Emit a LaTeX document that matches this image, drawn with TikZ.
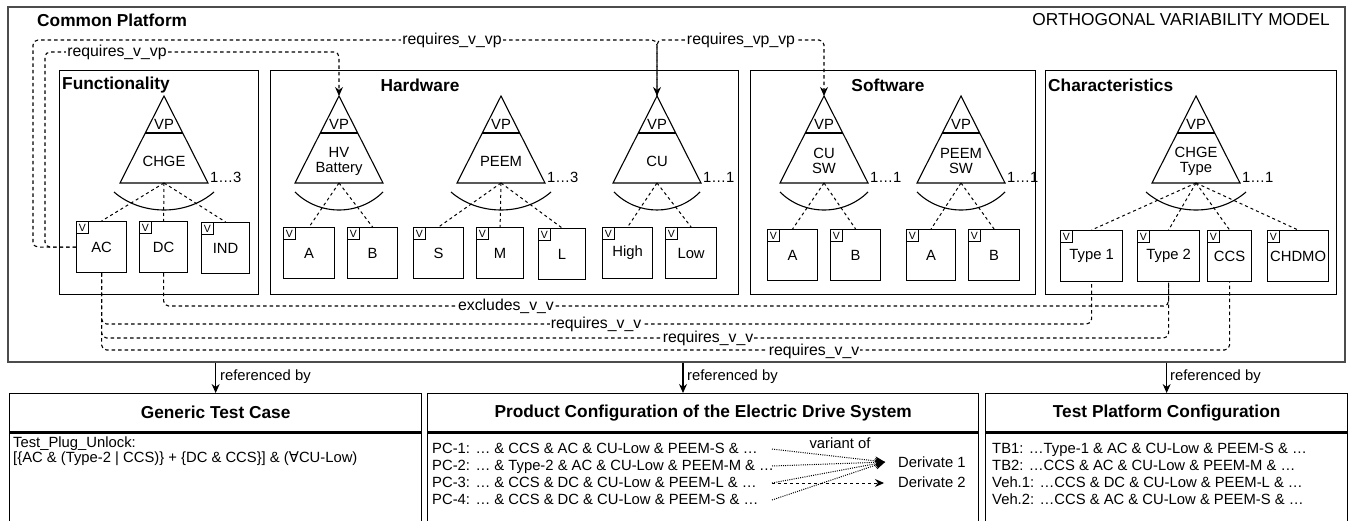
\documentclass[tikz,border=0pt]{standalone}
\usepackage{fontspec}
\setmainfont{Liberation Sans}
\newfontfamily\symfont{DejaVu Sans}
\usetikzlibrary{positioning,arrows.meta,calc}
\tikzset{
  base/.style={font=\fontsize{14.8}{15}\selectfont, inner sep=0pt},
  ttl/.style={font=\fontsize{17.3}{19}\selectfont\bfseries, inner sep=0pt},
  frame/.style={draw, line width=1.3pt},
  outerframe/.style={draw=black!70, line width=1.6pt},
  tri/.style={draw, line width=1.1pt},
  vbox/.style={base, draw, line width=1.2pt, minimum height=51pt},
  vmark/.style={draw, line width=0.9pt, minimum size=12pt, inner sep=0pt,
                font=\fontsize{10.5}{11}\selectfont},
  alt/.style={dash pattern=on 3pt off 3pt, line width=1pt},
  rel/.style={dash pattern=on 3.5pt off 3pt, line width=1.1pt, rounded corners=5pt},
  relarrow/.style={rel, -{Stealth[length=9pt, width=8pt]}},
  lbl/.style={font=\fontsize{15.8}{16}\selectfont, fill=white, inner sep=1pt},
  refarrow/.style={-{Stealth[length=9pt, width=8pt]}, line width=1.1pt},
  row/.style={base, anchor=west, text height=11pt, text depth=3pt},
  varof/.style={dash pattern=on 1pt off 1.2pt, line width=1pt,
                -{Stealth[length=10pt, width=9pt]}},
  varof2/.style={dash pattern=on 3pt off 3pt, line width=1pt,
                 -{Stealth[length=9pt, width=8pt]}}
}
% variation point: name, apex x, text, cardinality, arc half width
\newcommand{\vpoint}[5]{%
  \coordinate (#1-top) at (#2,96);
  \coordinate (#1-base) at (#2,183);
  \draw[tri] (#1-top) -- (#2+44,183) -- (#2-44,183) -- cycle;
  \draw[tri] (#2-18.7,133) -- (#2+18.7,133);
  \node[base] (#1-vp) at (#2,124) {VP};
  \node[base, align=center] (#1-name) at (#2,161) {#3};
  \node[base, anchor=west] (#1-card) at (#2+46,177) {#4};
  \draw[tri] (#2-#5,192) .. controls (#2-0.45*#5,216) and (#2+0.45*#5,216) .. (#2+#5,192);
}
% variant: name, left x, top y, width, text
\newcommand{\variant}[5]{%
  \node[vbox, minimum width=#4pt, anchor=north west] (#1) at (#2,#3) {#5};
  \node[vmark, anchor=north west] (#1-v) at (#1.north west) {V};
}

\begin{document}
\begin{tikzpicture}[x=1pt, y=-1pt]
\useasboundingbox (0,0) rectangle (1351,521);

% common platform
\node[outerframe, minimum width=1337pt, minimum height=355pt, anchor=north west] (cp) at (7,6) {};
\node[ttl, anchor=west] (cp-title) at (37,20) {Common Platform};
\node[font=\fontsize{17.3}{19}\selectfont, inner sep=0pt, anchor=east] (ovm) at (1330,20) {ORTHOGONAL VARIABILITY MODEL};

\node[frame, minimum width=199pt, minimum height=224pt, anchor=north west] (func) at (59,70) {};
\node[frame, minimum width=468pt, minimum height=224pt, anchor=north west] (hw) at (270,70) {};
\node[frame, minimum width=285pt, minimum height=224pt, anchor=north west] (sw) at (750,70) {};
\node[frame, minimum width=291pt, minimum height=224pt, anchor=north west] (chr) at (1045,70) {};
\node[ttl, anchor=west] (func-title) at (62,85) {Functionality};
\node[ttl] (hw-title) at (420,85) {Hardware};
\node[ttl] (sw-title) at (888,85) {Software};
\node[ttl, anchor=west] (chr-title) at (1048,85) {Characteristics};

% variation points
\vpoint{chge}{164}{CHGE}{1…3}{50}
\vpoint{hv}{339}{HV\\Battery}{}{44}
\vpoint{peem}{501}{PEEM}{1…3}{50}
\vpoint{cu}{657}{CU}{1…1}{43}
\vpoint{cusw}{824}{CU\\SW}{1…1}{44}
\vpoint{peemsw}{961}{PEEM\\SW}{1…1}{44}
\vpoint{type}{1196}{CHGE\\Type}{1…1}{50}

% variants
\variant{ac}{76}{221}{50}{AC}
\variant{dc}{139}{221}{48}{DC}
\variant{ind}{201}{222}{48}{IND}
\variant{hva}{283}{227}{51}{A}
\variant{hvb}{347}{227}{50}{B}
\variant{s}{413}{227}{50}{S}
\variant{m}{476}{227}{47}{M}
\variant{l}{538}{228}{47}{L}
\variant{high}{602}{227}{50}{High}
\variant{low}{665}{227}{51}{Low}
\variant{swa}{767}{229}{50}{A}
\variant{swb}{830}{229}{50}{B}
\variant{pswa}{906}{229}{49}{A}
\variant{pswb}{968}{229}{51}{B}
\variant{t1}{1060}{230}{62}{Type 1}
\variant{t2}{1137}{230}{62}{Type 2}
\variant{ccs}{1207}{230}{44}{CCS}
\variant{chdmo}{1267}{230}{61}{CHDMO}

\draw[alt] (chge-base) -- (ac.north);
\draw[alt] (chge-base) -- (dc.north);
\draw[alt] (chge-base) -- (ind.north);
\draw[alt] (hv-base) -- (hva.north);
\draw[alt] (hv-base) -- (hvb.north);
\draw[alt] (peem-base) -- (s.north);
\draw[alt] (peem-base) -- (m.north);
\draw[alt] (peem-base) -- (l.north);
\draw[alt] (cu-base) -- (high.north);
\draw[alt] (cu-base) -- (low.north);
\draw[alt] (cusw-base) -- (swa.north);
\draw[alt] (cusw-base) -- (swb.north);
\draw[alt] (peemsw-base) -- (pswa.north);
\draw[alt] (peemsw-base) -- (pswb.north);
\draw[alt] (type-base) -- (t1.north);
\draw[alt] (type-base) -- (t2.north);
\draw[alt] (type-base) -- (ccs.north);
\draw[alt] (type-base) -- (chdmo.north);

% constraints
\coordinate (up1) at (33,40);
\coordinate (up2) at (45,52);
\draw[relarrow] (ac.west) -| (up1) -| (cu-top);
\draw[relarrow] (ac.west) -| (up2) -| (hv-top);
\draw[relarrow] (cu-top) |- (cusw-top |- up1) -- (cusw-top);
\node[lbl] (req1) at (452,40) {requires\_v\_vp};
\node[lbl] (req2) at (117,52) {requires\_v\_vp};
\node[lbl] (req3) at (741,40) {requires\_vp\_vp};

\coordinate (lvx) at (0,306);
\coordinate (lv1) at (0,324);
\coordinate (lv2) at (0,338);
\coordinate (lv3) at (0,350);
\draw[rel] (dc.south) -- (dc.south |- lvx) -| (t2.south);
\draw[rel] (ac.south) -- (ac.south |- lv1) -| (t1.south);
\draw[rel] (ac.south) -- (ac.south |- lv2) -| (t2.south);
\draw[rel] (ac.south) -- (ac.south |- lv3) -| (ccs.south);
\node[lbl] (exc) at (506,306) {excludes\_v\_v};
\node[lbl] (req4) at (596,324) {requires\_v\_v};
\node[lbl] (req5) at (708,338) {requires\_v\_v};
\node[lbl] (req6) at (814,351) {requires\_v\_v};

% referencing artefacts
\node[frame, ttl, minimum width=412pt, minimum height=38pt, anchor=north west] (gtc) at (9,393) {Generic Test Case};
\node[frame, minimum width=412pt, minimum height=89pt, anchor=north west] (gtc-body) at (gtc.south west) {};
\node[frame, ttl, minimum width=551pt, minimum height=38pt, anchor=north west] (pcfg) at (427,393) {Product Configuration of the Electric Drive System};
\node[frame, minimum width=551pt, minimum height=89pt, anchor=north west] (pcfg-body) at (pcfg.south west) {};
\node[frame, ttl, minimum width=362pt, minimum height=38pt, anchor=north west] (tpc) at (985,393) {Test Platform Configuration};
\node[frame, minimum width=362pt, minimum height=89pt, anchor=north west] (tpc-body) at (tpc.south west) {};

\coordinate (pcin) at (683,393);
\draw[refarrow] (cp.south -| gtc.north) -- (gtc.north);
\draw[refarrow] (cp.south -| pcin) -- (pcin);
\draw[refarrow] (cp.south -| tpc.north) -- (tpc.north);
\node[base, anchor=west] (ref1) at (220,377) {referenced by};
\node[base, anchor=west] (ref2) at (687,377) {referenced by};
\node[base, anchor=west] (ref3) at (1170,377) {referenced by};

\node[row] (tc1) at (13,443) {Test\_Plug\_Unlock:};
\node[row] (tc2) at (13,458) {[\{AC \& (Type-2 | CCS)\} + \{DC \& CCS\}] \& ({\symfont ∀}CU-Low)};

\node[row] (pc1) at (432,449) {PC-1: … \& CCS \& AC \& CU-Low \& PEEM-S \& …};
\node[row] (pc2) at (432,466) {PC-2: … \& Type-2 \& AC \& CU-Low \& PEEM-M \& …};
\node[row] (pc3) at (432,483) {PC-3: … \& CCS \& DC \& CU-Low \& PEEM-L \& …};
\node[row] (pc4) at (432,500) {PC-4: … \& CCS \& DC \& CU-Low \& PEEM-S \& …};
\node[row] (der1) at (898,463) {Derivate 1};
\node[row] (der2) at (898,483) {Derivate 2};
\node[base] (varlbl) at (840,443) {variant of};
\coordinate (vstart) at (772,0);
\coordinate (d1tip) at (885,462);
\coordinate (d2tip) at (884,483);
\draw[varof] (vstart |- pc1.west) -- (d1tip);
\draw[varof] (vstart |- pc2.west) -- (d1tip);
\draw[varof] (vstart |- pc3.west) -- (d1tip);
\draw[varof] (vstart |- pc4.west) -- (d1tip);
\draw[varof2] (vstart |- pc3.west) -- (d2tip);

\node[row] (tb1) at (992,449) {TB1: …Type-1 \& AC \& CU-Low \& PEEM-S \& …};
\node[row] (tb2) at (992,466) {TB2: …CCS \& AC \& CU-Low \& PEEM-M \& …};
\node[row] (veh1) at (992,483) {Veh.1: …CCS \& DC \& CU-Low \& PEEM-L \& …};
\node[row] (veh2) at (992,500) {Veh.2: …CCS \& AC \& CU-Low \& PEEM-S \& …};
\end{tikzpicture}
\end{document}
